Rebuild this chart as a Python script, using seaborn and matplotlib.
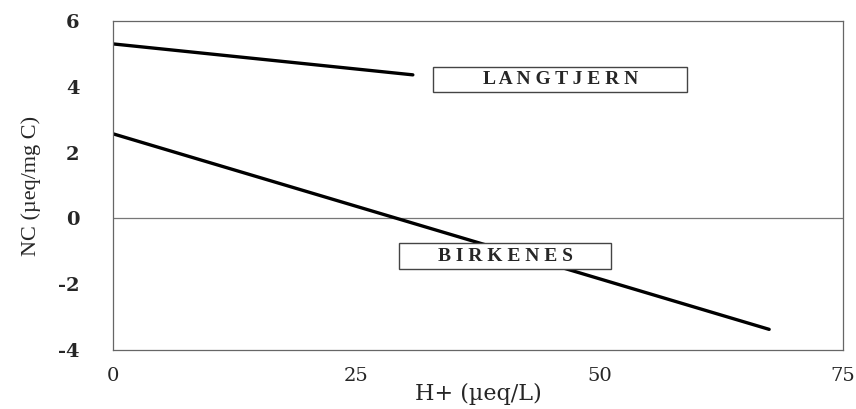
import matplotlib
matplotlib.use("Agg")
import matplotlib.pyplot as plt
from matplotlib.patches import Rectangle
import seaborn as sns
import pandas as pd

# Data
langtjern_x = [0, 30.8]
langtjern_y = [5.3, 4.36]
birkenes_x = [0, 67.4]
birkenes_y = [2.57, -3.37]
x_ticks = [0, 25, 50, 75]
y_ticks = [-4, -2, 0, 2, 4, 6]
labels = ["LANGTJERN", "BIRKENES"]

sns.set_style("white")
plt.rcParams['font.family'] = ['Liberation Serif', 'DejaVu Serif']

df = pd.DataFrame({
    "x": langtjern_x + birkenes_x,
    "y": langtjern_y + birkenes_y,
    "site": [labels[0]] * len(langtjern_x) + [labels[1]] * len(birkenes_x),
})

fig = plt.figure(figsize=(8.56, 4.09), dpi=100)
ax = fig.add_axes([0.132, 0.144, 0.853, 0.805])

sns.lineplot(data=df, x="x", y="y", units="site", estimator=None,
             color="black", linewidth=2.4, ax=ax, legend=False)

ax.axhline(0, color="#777777", linewidth=0.9, zorder=0)

ax.set_xlim(0, 75)
ax.set_ylim(-4, 6)
ax.set_xticks(x_ticks)
ax.set_yticks(y_ticks)
ax.set_xticklabels([str(t) for t in x_ticks], fontsize=14, family="DejaVu Serif")
ax.set_yticklabels([str(t) for t in y_ticks], fontsize=14, family="DejaVu Serif",
                   fontweight="semibold")
ax.tick_params(axis="y", direction="out", length=6, color="#555555", pad=18)
ax.tick_params(axis="x", direction="in", length=4, color="#555555", pad=12)

for s in ax.spines.values():
    s.set_color("#666666")
    s.set_linewidth(0.9)

ax.set_xlabel("H+ (µeq/L)", fontsize=16, family="DejaVu Serif", labelpad=-1)
ax.set_ylabel("NC (µeq/mg C)", fontsize=16, labelpad=12)

# labelled boxes
boxes = [
    (labels[0], 32.9, 3.84, 26.1, 0.76),
    (labels[1], 29.4, -1.54, 21.8, 0.79),
]
for name, bx, by, bw, bh in boxes:
    ax.add_patch(Rectangle((bx, by), bw, bh, facecolor="white",
                           edgecolor="#444444", linewidth=1.0, zorder=3))
    ax.text(bx + bw / 2, by + bh / 2, " ".join(name), ha="center", va="center",
            fontsize=14, fontweight="bold", family="Liberation Serif", zorder=4)

fig.savefig("out.png", dpi=100)
